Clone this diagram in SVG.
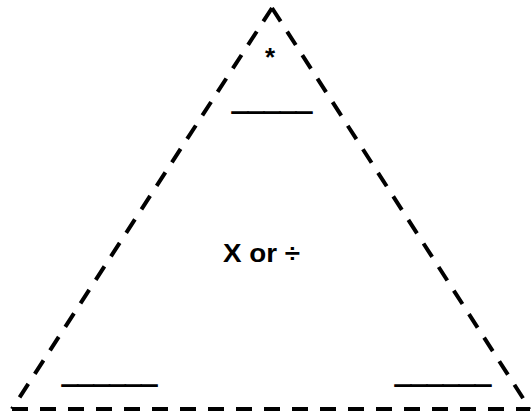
<svg xmlns="http://www.w3.org/2000/svg" width="531" height="416" viewBox="0 0 531 416">
<style>
.tri{fill:none;stroke:#000;stroke-width:4;stroke-dasharray:16 12;stroke-linejoin:miter}
.t{font-family:"Liberation Sans",Arial,sans-serif;font-weight:bold;font-size:26px;fill:#000}
.u{font-family:"Liberation Sans",Arial,sans-serif;font-weight:bold;font-size:36px;fill:#000;stroke:#000;stroke-width:1.2}
</style>
<rect width="531" height="416" fill="#fff"/>
<g id="triangle">
<path class="tri" d="M272 8 L12 409 M272 8 L530 409 M12 409 L530 409"/>
</g>
<g id="top">
<text class="t" x="270" y="66" text-anchor="middle">*</text>
<text class="u" x="232" y="108.5" textLength="80" lengthAdjust="spacingAndGlyphs">_____</text>
</g>
<g id="center">
<text class="t" x="223" y="262" textLength="77" lengthAdjust="spacingAndGlyphs">X or ÷</text>
</g>
<g id="bottom-left">
<text class="u" x="62" y="381.5" textLength="95" lengthAdjust="spacingAndGlyphs">______</text>
</g>
<g id="bottom-right">
<text class="u" x="395" y="381.5" textLength="96" lengthAdjust="spacingAndGlyphs">______</text>
</g>
</svg>
